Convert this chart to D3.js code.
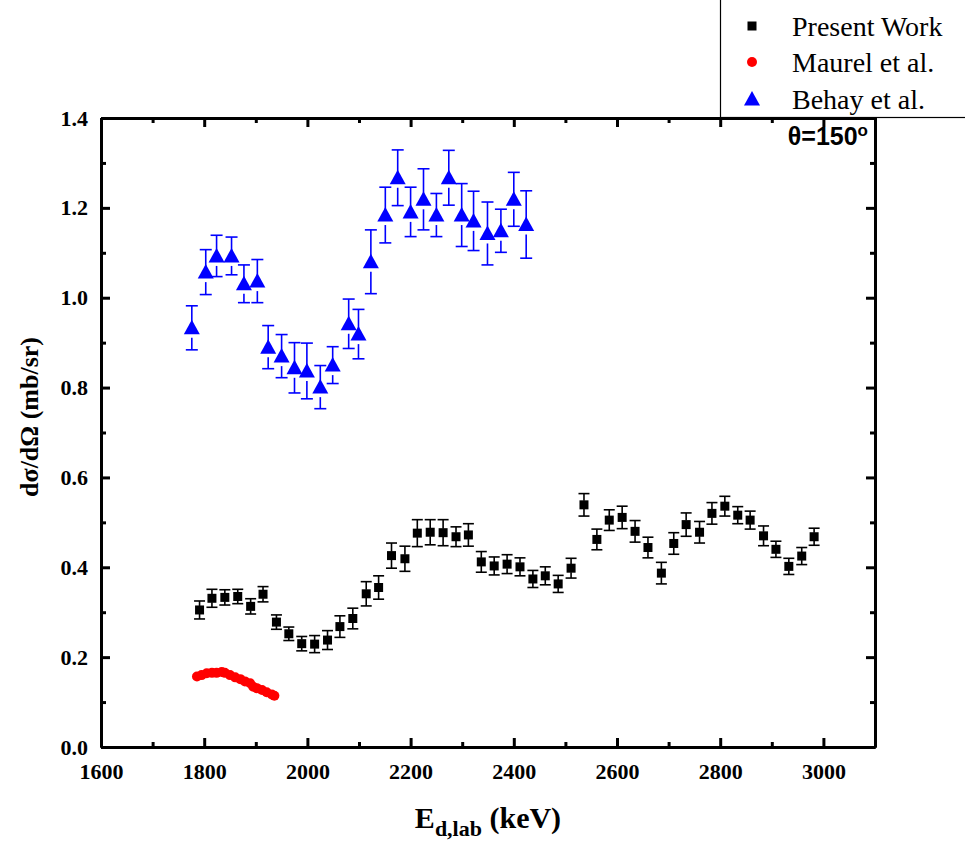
<!DOCTYPE html>
<html lang="en">
<head>
<meta charset="UTF-8">
<title>dσ/dΩ vs E</title>
<script src="https://cdn.jsdelivr.net/npm/d3@7"></script>
<style>
  body { margin: 0; background: #fff; }
  svg { display: block; }
  .axis path, .axis line { stroke: #000; stroke-width: 3; }
</style>
</head>
<body>
<div id="chart"></div>
<script>
// Present Work
const presentE = [1791, 1815, 1840, 1865, 1890, 1914, 1940, 1964, 1989, 2014,
  2039, 2063, 2088, 2114, 2138, 2163, 2189, 2213, 2238, 2263,
  2288, 2312, 2337, 2362, 2387, 2412, 2437, 2461, 2486, 2511,
  2536, 2561, 2585, 2610, 2635, 2660, 2686, 2710, 2734, 2760,
  2784, 2809, 2834, 2858, 2884, 2908, 2933, 2958, 2982];
const presentY = [0.305, 0.331, 0.333, 0.335, 0.313, 0.340, 0.278, 0.252, 0.230, 0.229,
  0.238, 0.268, 0.286, 0.341, 0.355, 0.426, 0.419, 0.476, 0.478, 0.477,
  0.468, 0.472, 0.412, 0.403, 0.407, 0.401, 0.374, 0.381, 0.363, 0.398,
  0.539, 0.462, 0.505, 0.511, 0.480, 0.444, 0.387, 0.453, 0.495, 0.478,
  0.520, 0.536, 0.516, 0.505, 0.470, 0.440, 0.402, 0.425, 0.468];
const presentErr = [0.020, 0.020, 0.017, 0.016, 0.017, 0.017, 0.016, 0.015, 0.016, 0.019,
  0.021, 0.024, 0.023, 0.027, 0.026, 0.028, 0.028, 0.030, 0.028, 0.029,
  0.022, 0.025, 0.023, 0.020, 0.021, 0.020, 0.019, 0.020, 0.019, 0.022,
  0.025, 0.023, 0.023, 0.025, 0.024, 0.023, 0.024, 0.024, 0.026, 0.024,
  0.024, 0.022, 0.019, 0.020, 0.022, 0.018, 0.018, 0.019, 0.019];

// Maurel et al.
const maurelE = [1786, 1795, 1805, 1815, 1824, 1834, 1840, 1850, 1860, 1870, 1879, 1889, 1895, 1902, 1912, 1921, 1931, 1936];
const maurelY = [0.157, 0.160, 0.164, 0.165, 0.165, 0.167, 0.165, 0.160, 0.155, 0.151, 0.146, 0.142, 0.134, 0.131, 0.127, 0.122, 0.117, 0.114];

// Behay et al.
const behayE = [1776, 1803, 1824, 1853, 1877, 1903, 1924, 1950, 1975, 1999,
  2025, 2049, 2080, 2099, 2123, 2151, 2175, 2200, 2225, 2250,
  2274, 2299, 2322, 2349, 2375, 2400, 2424];
const behayY = [0.933, 1.057, 1.093, 1.093, 1.031, 1.037, 0.890, 0.870, 0.844, 0.837,
  0.801, 0.850, 0.942, 0.919, 1.080, 1.184, 1.267, 1.191, 1.219, 1.184,
  1.267, 1.184, 1.171, 1.143, 1.149, 1.219, 1.163];
const behayErr = [0.049, 0.050, 0.046, 0.042, 0.042, 0.048, 0.048, 0.048, 0.056, 0.062,
  0.048, 0.041, 0.055, 0.055, 0.071, 0.062, 0.062, 0.055, 0.068, 0.048,
  0.061, 0.070, 0.066, 0.070, 0.048, 0.060, 0.075];

const xTicks = [1600, 1800, 2000, 2200, 2400, 2600, 2800, 3000];
const xMinor = [1700, 1900, 2100, 2300, 2500, 2700, 2900, 3100];
const yTicks = [0.0, 0.2, 0.4, 0.6, 0.8, 1.0, 1.2, 1.4];
const yMinor = [0.1, 0.3, 0.5, 0.7, 0.9, 1.1, 1.3];

const legendLabels = ["Present Work", "Maurel et al.", "Behay et al."];

const serif = "'Liberation Serif', 'Times New Roman', Times, serif";

// layout
const W = 965, H = 847;
const margin = { top: 118, right: 90, bottom: 100, left: 101 };
const width = W - margin.left - margin.right;
const height = H - margin.top - margin.bottom;

const svg = d3.select("#chart").append("svg")
  .attr("width", W).attr("height", H);

const g = svg.append("g")
  .attr("transform", `translate(${margin.left},${margin.top})`);

const x = d3.scaleLinear().domain([1600, 3100]).range([0, width]);
const y = d3.scaleLinear().domain([0, 1.4]).range([height, 0]);

function styleAxis(sel) {
  sel.attr("font-family", null).attr("font-size", null);
  sel.selectAll("text")
    .attr("font-family", serif)
    .attr("font-weight", "bold")
    .attr("font-size", 22)
    .attr("fill", "#000");
}

// axes (ticks pointing inward, mirrored on top/right)
g.append("g").attr("class", "axis")
  .attr("transform", `translate(0,${height})`)
  .call(d3.axisBottom(x).tickValues(xTicks).tickSize(-9).tickSizeOuter(0).tickPadding(16).tickFormat(d3.format("d")))
  .call(styleAxis);
g.append("g").attr("class", "axis")
  .attr("transform", `translate(0,${height})`)
  .call(d3.axisBottom(x).tickValues(xMinor).tickSize(-5).tickSizeOuter(0).tickFormat(""));
g.append("g").attr("class", "axis")
  .call(d3.axisLeft(y).tickValues(yTicks).tickSize(-9).tickSizeOuter(0).tickPadding(13).tickFormat(d3.format(".1f")))
  .call(styleAxis);
g.append("g").attr("class", "axis")
  .call(d3.axisLeft(y).tickValues(yMinor).tickSize(-5).tickSizeOuter(0).tickFormat(""));
g.append("g").attr("class", "axis")
  .call(d3.axisTop(x).tickValues(xTicks).tickSize(-9).tickSizeOuter(0).tickFormat(""));
g.append("g").attr("class", "axis")
  .call(d3.axisTop(x).tickValues(xMinor).tickSize(-5).tickSizeOuter(0).tickFormat(""));
g.append("g").attr("class", "axis")
  .attr("transform", `translate(${width},0)`)
  .call(d3.axisRight(y).tickValues(yTicks).tickSize(-9).tickSizeOuter(0).tickFormat(""));
g.append("g").attr("class", "axis")
  .attr("transform", `translate(${width},0)`)
  .call(d3.axisRight(y).tickValues(yMinor).tickSize(-5).tickSizeOuter(0).tickFormat(""));

// error bars
function errorBars(E, V, Err, color, capW, gapUp, gapDown) {
  const eb = g.append("g").attr("stroke", color).attr("stroke-width", 1.6);
  E.forEach((e, i) => {
    const cx = x(e), cy = y(V[i]);
    const top = y(V[i] + Err[i]), bot = y(V[i] - Err[i]);
    if (top < cy - gapUp) eb.append("line").attr("x1", cx).attr("x2", cx).attr("y1", top).attr("y2", cy - gapUp);
    if (bot > cy + gapDown) eb.append("line").attr("x1", cx).attr("x2", cx).attr("y1", cy + gapDown).attr("y2", bot);
    eb.append("line").attr("x1", cx - capW / 2).attr("x2", cx + capW / 2).attr("y1", top).attr("y2", top);
    eb.append("line").attr("x1", cx - capW / 2).attr("x2", cx + capW / 2).attr("y1", bot).attr("y2", bot);
  });
}

errorBars(behayE, behayY, behayErr, "#0000ff", 12, 5, 10);
errorBars(presentE, presentY, presentErr, "#000", 11, 4, 4);

// Maurel circles
g.append("g").selectAll("circle")
  .data(maurelE)
  .join("circle")
  .attr("cx", d => x(d))
  .attr("cy", (d, i) => y(maurelY[i]))
  .attr("r", 5)
  .attr("fill", "#ff0000");

// Present Work squares
g.append("g").selectAll("rect")
  .data(presentE)
  .join("rect")
  .attr("x", d => x(d) - 4.5)
  .attr("y", (d, i) => y(presentY[i]) - 4.5)
  .attr("width", 9).attr("height", 9)
  .attr("fill", "#000");

// Behay triangles
const tri = "M0,-8 L8,6.5 L-8,6.5 Z";
g.append("g").selectAll("path")
  .data(behayE)
  .join("path")
  .attr("d", tri)
  .attr("transform", (d, i) => `translate(${x(d)},${y(behayY[i])})`)
  .attr("fill", "#0000ff");

// angle label
const th = g.append("text")
  .attr("x", 767).attr("y", 27)
  .attr("text-anchor", "end")
  .attr("font-family", "'Liberation Sans', Arial, sans-serif")
  .attr("font-weight", "bold").attr("font-size", 25);
th.append("tspan").text("θ=150");
th.append("tspan").attr("dy", -9).attr("font-size", 17).text("o");

// axis titles
svg.append("text")
  .attr("transform", `translate(38,417) rotate(-90)`)
  .attr("text-anchor", "middle")
  .attr("font-family", serif)
  .attr("font-weight", "bold").attr("font-size", 26)
  .text("dσ/dΩ (mb/sr)");

const xl = svg.append("text")
  .attr("x", 488).attr("y", 828)
  .attr("text-anchor", "middle")
  .attr("font-family", serif)
  .attr("font-weight", "bold").attr("font-size", 30);
xl.append("tspan").text("E");
xl.append("tspan").attr("dy", 8).attr("font-size", 22).text("d,lab");
xl.append("tspan").attr("dy", -8).text(" (keV)");

// legend
const lg = svg.append("g");
lg.append("rect")
  .attr("x", 720.5).attr("y", -2).attr("width", 260).attr("height", 119.5)
  .attr("fill", "#fff").attr("stroke", "#000").attr("stroke-width", 1.2);
const rows = [26, 62, 99];
lg.append("rect").attr("x", 752 - 4.5).attr("y", rows[0] - 4.5).attr("width", 9).attr("height", 9).attr("fill", "#000");
lg.append("circle").attr("cx", 752).attr("cy", rows[1]).attr("r", 5).attr("fill", "#ff0000");
lg.append("path").attr("d", tri).attr("transform", `translate(752,${rows[2]})`).attr("fill", "#0000ff");
legendLabels.forEach((t, i) => {
  lg.append("text")
    .attr("x", 792).attr("y", rows[i] + 10)
    .attr("font-family", serif)
    .attr("font-size", 28)
    .text(t);
});
</script>
</body>
</html>
